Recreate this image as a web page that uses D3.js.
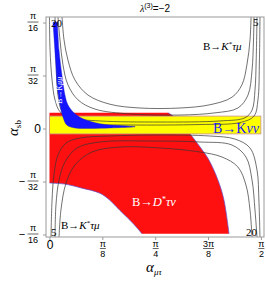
<!DOCTYPE html>
<html>
<head>
<meta charset="utf-8">
<script src="https://cdn.jsdelivr.net/npm/d3@7"></script>
<style>
body { margin: 0; background: #fff; }
svg { display: block; }
</style>
</head>
<body>
<script>
var W = 266, H = 284;
var frame = {left: 46, right: 264, top: 17, bottom: 237};

var xDomain = [-0.026, 1.594];
var yDomain = [-0.201, 0.2066];

var xTicks = [0, Math.PI / 8, Math.PI / 4, 3 * Math.PI / 8, Math.PI / 2];
var xTickLabels = ["0", "π/8", "π/4", "3π/8", "π/2"];
var yTicks = [-Math.PI / 16, -Math.PI / 32, 0, Math.PI / 32, Math.PI / 16];
var yTickLabels = ["−π/16", "−π/32", "0", "π/32", "π/16"];

/* B -> D* tau nu allowed region */
var dstarTop = 0.029;
var dstarOuter = [[0.880, 0.029], [0.918, 0.023], [1.044, -0.010], [1.118, -0.034], [1.184, -0.058],
	[1.251, -0.095], [1.296, -0.132], [1.334, -0.195]];
var dstarInner = [[0.687, -0.195], [0.650, -0.184], [0.598, -0.170], [0.524, -0.152], [0.449, -0.133],
	[0.375, -0.120], [0.234, -0.110], [0.115, -0.103], [0, -0.101]];

/* B -> K nu nu band */
var kvvX = [0, Math.PI / 2];
var kvvY = [-0.010, 0.023];

/* B -> K mu mu band */
var kmmOuter = [[0.059, 0.197], [0.071, 0.145], [0.093, 0.098], [0.115, 0.062], [0.137, 0.044],
	[0.182, 0.029], [0.249, 0.018], [0.375, 0.009], [0.524, 0.0056], [0.635, 0.0037]];
var kmmInner = [[0.635, 0.0028], [0.449, 0.001], [0.301, 0.000], [0.189, 0.001], [0.130, 0.006],
	[0.100, 0.021], [0.078, 0.044], [0.059, 0.075], [0.045, 0.127], [0.026, 0.197]];

/* B -> K* tau mu contours */
var upper1 = [[0.093, 0.207], [0.108, 0.164], [0.137, 0.127], [0.189, 0.090], [0.286, 0.062], [0.449, 0.045],
	[0.672, 0.038], [0.970, 0.038], [1.192, 0.044], [1.356, 0.058], [1.430, 0.081], [1.467, 0.118],
	[1.490, 0.164], [1.498, 0.207]];
var upper2 = [[0.063, 0.207], [0.078, 0.164], [0.100, 0.118], [0.137, 0.081], [0.212, 0.053], [0.338, 0.036],
	[0.598, 0.027], [0.970, 0.025], [1.230, 0.029], [1.400, 0.038], [1.475, 0.062], [1.505, 0.108],
	[1.516, 0.164], [1.520, 0.207]];
var upper3 = [[0, 0.207], [0.004, 0.146], [0.019, 0.090], [0.041, 0.053], [0.078, 0.031], [0.152, 0.020],
	[0.375, 0.014], [0.821, 0.012], [1.267, 0.014], [1.453, 0.020], [1.505, 0.034], [1.527, 0.071],
	[1.536, 0.127], [1.542, 0.207]];
var upper4 = [[0.041, 0.207], [0.048, 0.127], [0.063, 0.062], [0.093, 0.031], [0.152, 0.016], [0.301, 0.008],
	[0.598, 0.0065], [1.118, 0.0074], [1.415, 0.011], [1.520, 0.023], [1.549, 0.053], [1.560, 0.127],
	[1.564, 0.207]];
var lower1 = [[0.011, -0.201], [0.019, -0.1325], [0.033, -0.0862], [0.063, -0.0491], [0.123, -0.0269],
	[0.227, -0.0176], [0.449, -0.0139], [0.821, -0.012], [1.192, -0.0139], [1.378, -0.0195], [1.490, -0.0361],
	[1.542, -0.0769], [1.556, -0.1325], [1.564, -0.201]];
var lower2 = [[0.041, -0.201], [0.048, -0.1417], [0.071, -0.0954], [0.115, -0.0621], [0.204, -0.0361],
	[0.375, -0.025], [0.747, -0.0232], [1.118, -0.025], [1.356, -0.0306], [1.460, -0.0528], [1.505, -0.0954],
	[1.527, -0.151], [1.542, -0.201]];
var lower3 = [[0.071, -0.201], [0.085, -0.151], [0.123, -0.101], [0.189, -0.0676], [0.316, -0.0435],
	[0.524, -0.0343], [0.821, -0.0361], [1.118, -0.0435], [1.282, -0.0528], [1.400, -0.0713], [1.460, -0.1047],
	[1.490, -0.151], [1.505, -0.201]];
var contours = [upper1, upper2, upper3, upper4, lower1, lower2, lower3];

function drawChart() {
	var svg = d3.select("body")
				.append("svg")
				.attr("width", W)
				.attr("height", H)
				.style("font-family", "'Liberation Sans', Arial, sans-serif");

	svg.append("rect").attr("width", W).attr("height", H).attr("fill", "#fff");

	var xScale = d3.scaleLinear()
					.domain(xDomain)
					.range([frame.left, frame.right]);
	var yScale = d3.scaleLinear()
					.domain(yDomain)
					.range([frame.bottom, frame.top]);

	var line = d3.line()
				.x(function(d) { return xScale(d[0]); })
				.y(function(d) { return yScale(d[1]); })
				.curve(d3.curveCatmullRom);

	svg.append("clipPath").attr("id", "plotclip")
		.append("rect")
		.attr("x", frame.left).attr("y", frame.top)
		.attr("width", frame.right - frame.left)
		.attr("height", frame.bottom - frame.top);

	var plot = svg.append("g").attr("clip-path", "url(#plotclip)");

	/* red region */
	var redPath = "M" + xScale(0) + "," + yScale(dstarTop)
		+ line(dstarOuter).replace("M", "L")
		+ line(dstarInner).replace("M", "L")
		+ "Z";
	plot.append("path")
		.attr("d", redPath)
		.attr("fill", "#ff1010");
	plot.append("path").attr("d", line(dstarOuter))
		.attr("fill", "none").attr("stroke", "#5a4bd0").attr("stroke-width", 0.7);
	plot.append("path").attr("d", line(dstarInner))
		.attr("fill", "none").attr("stroke", "#5a4bd0").attr("stroke-width", 0.7);

	/* yellow band */
	plot.append("rect")
		.attr("x", xScale(kvvX[0]))
		.attr("y", yScale(kvvY[1]))
		.attr("width", xScale(kvvX[1]) - xScale(kvvX[0]))
		.attr("height", yScale(kvvY[0]) - yScale(kvvY[1]))
		.attr("fill", "#ffff00")
		.attr("stroke", "#c9908a")
		.attr("stroke-width", 0.8);

	/* contour lines */
	plot.selectAll(".contour")
		.data(contours)
		.enter()
		.append("path")
		.attr("class", "contour")
		.attr("d", line)
		.attr("fill", "none")
		.attr("stroke", "#333")
		.attr("stroke-width", 0.7);

	/* blue band */
	plot.append("path")
		.attr("d", line(kmmOuter) + line(kmmInner).replace("M", "L") + "Z")
		.attr("fill", "#1414ff")
		.attr("stroke", "#2020c0")
		.attr("stroke-width", 0.4);

	/* frame */
	svg.append("rect")
		.attr("x", frame.left).attr("y", frame.top)
		.attr("width", frame.right - frame.left)
		.attr("height", frame.bottom - frame.top)
		.attr("fill", "none")
		.attr("stroke", "#9a9a9a")
		.attr("stroke-width", 1);

	/* axes */
	var xAxis = d3.axisBottom(xScale).tickValues(xTicks).tickSize(3).tickFormat("");
	var yAxis = d3.axisLeft(yScale).tickValues(yTicks).tickSize(3).tickFormat("");

	var gx = svg.append("g")
		.attr("transform", "translate(0," + frame.bottom + ")")
		.call(xAxis);
	var gy = svg.append("g")
		.attr("transform", "translate(" + frame.left + ",0)")
		.call(yAxis);
	gx.select(".domain").remove();
	gy.select(".domain").remove();
	svg.selectAll(".tick line").attr("stroke", "#9a9a9a");

	gx.selectAll(".tick").each(function(d, i) {
		fracLabel(d3.select(this), xTickLabels[i], 0, 9.5, 11.5, 20, 0, 12);
	});
	gy.selectAll(".tick").each(function(d, i) {
		fracLabel(d3.select(this), yTickLabels[i], -13, -4, -1, 8, -24, 4);
	});

	/* axis titles */
	svg.append("text")
		.attr("x", 146).attr("y", 272)
		.style("font-family", "'Liberation Serif', serif")
		.style("font-size", "15px")
		.style("font-style", "italic")
		.html('α<tspan font-size="9" dy="3">μτ</tspan>');
	svg.append("text")
		.attr("transform", "translate(18,136) rotate(-90)")
		.style("font-family", "'Liberation Serif', serif")
		.style("font-size", "15px")
		.style("font-style", "italic")
		.html('α<tspan font-size="9" dy="3" font-style="normal">sb</tspan>');

	/* title */
	svg.append("text")
		.attr("x", 155).attr("y", 12)
		.attr("text-anchor", "middle")
		.style("font-size", "10px")
		.html('<tspan font-family="Liberation Serif" font-style="italic">λ</tspan><tspan font-size="7" dy="-4">(3)</tspan><tspan dy="4">=−2</tspan>');

	/* region labels */
	var serif = "'Liberation Serif', 'Times New Roman', serif";
	svg.append("text")
		.attr("x", 203).attr("y", 50)
		.style("font-family", serif).style("font-size", "11px")
		.html('B→<tspan font-style="italic">K</tspan><tspan font-size="7" dy="-4">*</tspan><tspan dy="4" font-style="italic">τμ</tspan>');
	svg.append("text")
		.attr("x", 61).attr("y", 229)
		.style("font-family", serif).style("font-size", "11px")
		.html('B→<tspan font-style="italic">K</tspan><tspan font-size="7" dy="-4">*</tspan><tspan dy="4" font-style="italic">τμ</tspan>');
	svg.append("text")
		.attr("x", 132).attr("y", 206)
		.attr("fill", "#fff")
		.style("font-family", serif).style("font-size", "12.5px")
		.html('B→<tspan font-style="italic">D</tspan><tspan font-size="8" dy="-4">*</tspan><tspan dy="4" font-style="italic">τν</tspan>');
	svg.append("text")
		.attr("x", 213).attr("y", 133)
		.attr("fill", "#1a1aff")
		.style("font-family", serif).style("font-size", "14px")
		.html('B→K<tspan font-style="italic">νν</tspan>');
	svg.append("text")
		.attr("transform", "translate(62,104) rotate(-90)")
		.attr("fill", "#fff")
		.style("font-family", serif).style("font-size", "8px")
		.html('B→K<tspan font-style="italic">μμ</tspan>');

	/* contour value labels */
	var cl = [["20", 51, 27], ["5", 253, 26], ["5", 51, 236], ["20", 246, 236]];
	svg.selectAll(".clab")
		.data(cl)
		.enter()
		.append("text")
		.attr("class", "clab")
		.attr("x", function(d) { return d[1]; })
		.attr("y", function(d) { return d[2]; })
		.style("font-family", serif)
		.style("font-size", "11px")
		.text(function(d) { return d[0]; });
}

function fracLabel(g, label, cx, numY, barY, denY, minusX, zeroY) {
	var neg = label.charAt(0) === "−";
	var s = neg ? label.slice(1) : label;
	if (s.indexOf("/") < 0) {
		g.append("text")
			.attr("x", cx === 0 ? 0 : cx + 8)
			.attr("y", zeroY)
			.attr("text-anchor", cx === 0 ? "middle" : "end")
			.attr("fill", "#000")
			.style("font-size", "12px")
			.text(s);
		return;
	}
	var parts = s.split("/");
	var bw = Math.max(parts[0].length, parts[1].length) * 5 + 1;
	g.append("text")
		.attr("x", cx).attr("y", numY)
		.attr("text-anchor", "middle")
		.attr("fill", "#000")
		.style("font-size", "9px")
		.text(parts[0]);
	g.append("line")
		.attr("x1", cx - bw / 2).attr("x2", cx + bw / 2)
		.attr("y1", barY).attr("y2", barY)
		.attr("stroke", "#000")
		.attr("stroke-width", 0.6);
	g.append("text")
		.attr("x", cx).attr("y", denY)
		.attr("text-anchor", "middle")
		.attr("fill", "#000")
		.style("font-size", "9px")
		.text(parts[1]);
	if (neg) {
		g.append("text")
			.attr("x", minusX).attr("y", 3)
			.attr("text-anchor", "middle")
			.attr("fill", "#000")
			.style("font-size", "11px")
			.text("−");
	}
}

drawChart();
</script>
</body>
</html>
